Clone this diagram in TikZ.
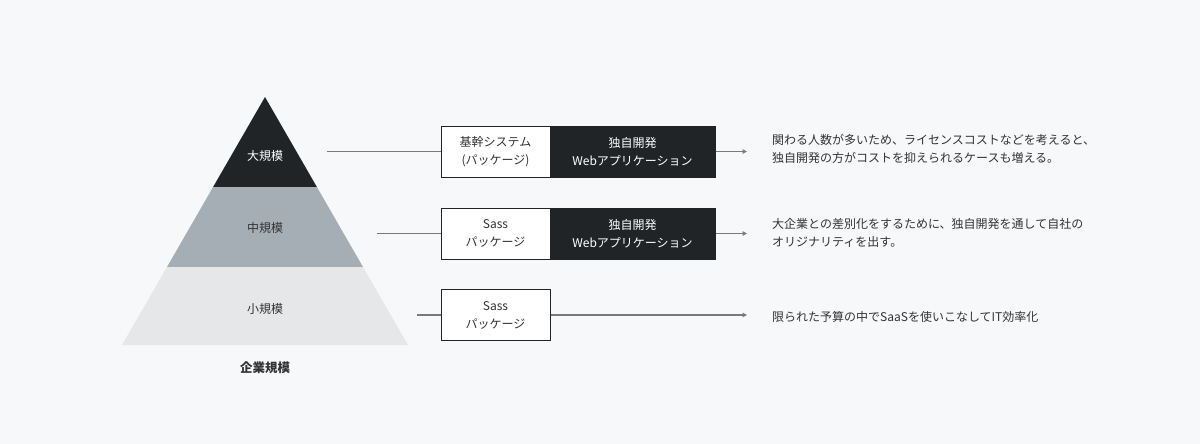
\documentclass[tikz,border=0pt]{standalone}
\usepackage{fontspec}
\setmainfont{Noto Sans CJK JP}
\usetikzlibrary{arrows.meta}
\definecolor{bg}{HTML}{F7F8FA}
\definecolor{dark}{HTML}{212427}
\definecolor{mid}{HTML}{A6AEB5}
\definecolor{light}{HTML}{E6E7E9}
\definecolor{txt}{HTML}{333333}
\definecolor{ln}{HTML}{7A7A7A}
\tikzset{
  lbl/.style={font=\fontsize{12}{18}\selectfont, text=txt, inner sep=0pt},
  wbox/.style={draw=dark, line width=1pt, fill=white, minimum width=109pt, minimum height=51pt, inner sep=0pt, align=center, font=\fontsize{12}{18}\selectfont, text=txt},
  dbox/.style={draw=dark, line width=1pt, fill=dark, minimum width=165pt, minimum height=51pt, inner sep=0pt, align=center, font=\fontsize{12}{18}\selectfont, text=white},
  desc/.style={font=\fontsize{12}{18}\selectfont, text=txt, inner sep=0pt, align=left, anchor=west},
  conn/.style={draw=ln, line width=1.5pt},
  arr/.style={draw=ln, line width=1.5pt, -{Triangle[length=4.5pt,width=4.5pt]}}
}
\begin{document}
\begin{tikzpicture}[x=1pt,y=-1pt]
\fill[bg] (0,0) rectangle (1200,444);
\useasboundingbox (0,0) rectangle (1200,444);
% pyramid
\fill[dark] (265,97) -- (316.9,187) -- (213.1,187) -- cycle;
\fill[mid] (213.1,187) -- (316.9,187) -- (363,267) -- (167,267) -- cycle;
\fill[light] (167,267) -- (363,267) -- (408,345) -- (122,345) -- cycle;
\node[lbl, text=white] (large) at (265,156) {大規模};
\node[lbl] (medium) at (265,228) {中規模};
\node[lbl] (small) at (265,309) {小規模};
\node[lbl, font=\fontsize{12.5}{18}\bfseries] (scale) at (265,368) {企業規模};
% boxes
\node[wbox] (b1w) at (495.5,151.5) {基幹システム\\(パッケージ)};
\node[dbox] (b1d) at (632.5,151.5) {独自開発\\Webアプリケーション};
\node[wbox] (b2w) at (495.5,233.5) {Sass\\パッケージ};
\node[dbox] (b2d) at (632.5,233.5) {独自開発\\Webアプリケーション};
\node[wbox] (b3w) at (495.5,315) {Sass\\パッケージ};
% connectors
\coordinate (s1) at (327,151.5);
\coordinate (s2) at (377,233.5);
\coordinate (s3) at (417,315);
\coordinate (e1) at (747,151.5);
\coordinate (e2) at (747,233.5);
\coordinate (e3) at (747,315);
\draw[conn] (s1) -- (b1w.west);
\draw[conn] (s2) -- (b2w.west);
\draw[conn] (s3) -- (b3w.west);
\draw[arr] (b1d.east) -- (e1);
\draw[arr] (b2d.east) -- (e2);
\draw[arr] (b3w.east) -- (e3);
% descriptions
\node[desc] (d1) at (772,149) {関わる人数が多いため、ライセンスコストなどを考えると、\\独自開発の方がコストを抑えられるケースも増える。};
\node[desc] (d2) at (772,233) {大企業との差別化をするために、独自開発を通して自社の\\オリジナリティを出す。};
\node[desc] (d3) at (772,317) {限られた予算の中でSaaSを使いこなしてIT効率化};
\end{tikzpicture}
\end{document}
